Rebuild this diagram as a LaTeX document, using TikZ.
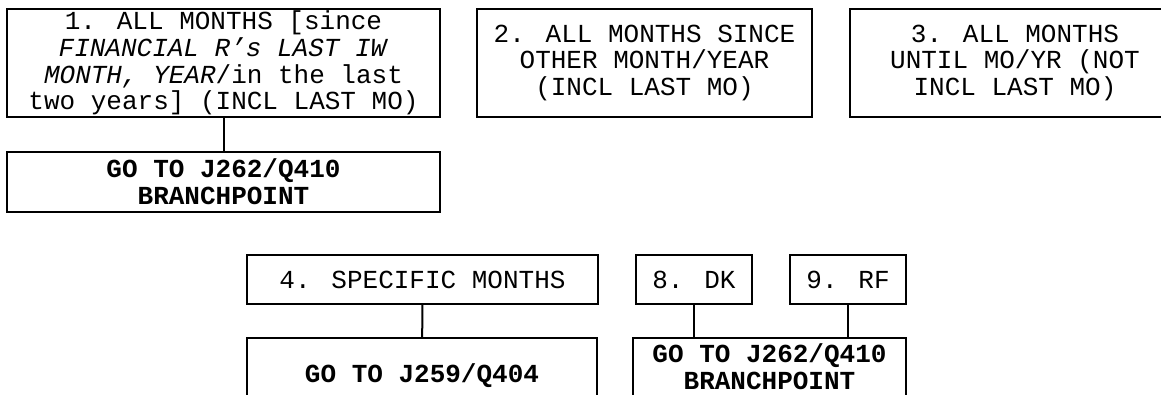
\documentclass[tikz,border=0pt]{standalone}
\usepackage{fontspec}
\setmainfont{Liberation Mono}
\usetikzlibrary{positioning}

\begin{document}
\begin{tikzpicture}[
        x=0.75pt,y=-0.75pt,
        every node/.style={font=\fontsize{19.5pt}{20pt}\selectfont},
        ansbox/.style={draw,line width=1.5pt,inner sep=0pt,align=center},
        gobox/.style={ansbox,font=\fontsize{19.5pt}{20pt}\selectfont\bfseries},
        link/.style={line width=1.5pt}
      ]
        \clip (0,0) rectangle (1161,395);
        % answer boxes, top row
        \node[ansbox,minimum width={433*0.75pt},minimum height={108*0.75pt}] (all) at (223.5,63) {1. ALL MONTHS [since\\\textit{FINANCIAL R’s LAST IW}\\\textit{MONTH, YEAR}/in the last\\two years] (INCL LAST MO)};
        \node[ansbox,minimum width={335*0.75pt},minimum height={108*0.75pt}] (since) at (644.5,63) {2. ALL MONTHS SINCE\\OTHER MONTH/YEAR\\(INCL LAST MO)};
        \node[ansbox,minimum width={330*0.75pt},minimum height={108*0.75pt}] (until) at (1015,63) {3. ALL MONTHS\\UNTIL MO/YR (NOT\\INCL LAST MO)};
        \node[gobox,minimum width={433*0.75pt},minimum height={60*0.75pt}] (goall) at (223.5,182) {GO TO J262/Q410\\BRANCHPOINT};
        % answer boxes, bottom row
        \node[ansbox,minimum width={351*0.75pt},minimum height={49*0.75pt}] (spec) at (422.5,279.5) {4. SPECIFIC MONTHS};
        \node[ansbox,minimum width={116*0.75pt},minimum height={49*0.75pt}] (dk) at (694,279.5) {8. DK};
        \node[ansbox,minimum width={116*0.75pt},minimum height={49*0.75pt}] (rf) at (848,279.5) {9. RF};
        \node[gobox,minimum width={350*0.75pt},minimum height={76*0.75pt}] (gospec) at (422,376) {GO TO J259/Q404};
        \node[gobox,minimum width={273*0.75pt},minimum height={58*0.75pt}] (godk) at (769.5,367) {GO TO J262/Q410\\BRANCHPOINT};
        \draw[link] (all) -- (goall);
        \draw[link] (spec) -- (gospec);
        \draw[link] (dk.south) -- (dk.south |- godk.north);
        \draw[link] (rf.south) -- (rf.south |- godk.north);
      \end{tikzpicture}
\end{document}
